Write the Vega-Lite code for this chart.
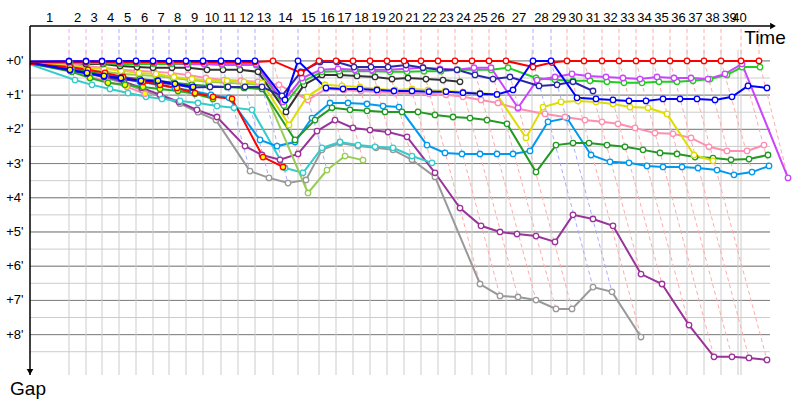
{
"$schema":"https://vega.github.io/schema/vega-lite/v6.json",
"width":740,"height":349,
"autosize":{"type":"none"},
"padding":{"left":30,"top":26,"right":30,"bottom":25},
"background":"white",
"config":{"view":{"stroke":null},"font":"Liberation Sans"},
"datasets":{
"grid":[{"g":0},{"g":0.5},{"g":1},{"g":1.5},{"g":2},{"g":2.5},{"g":3},{"g":3.5},{"g":4},{"g":4.5},{"g":5},{"g":5.5},{"g":6},{"g":6.5},{"g":7},{"g":7.5},{"g":8},{"g":8.5}],
"laps":[{"lap":1,"end":39},{"lap":2,"end":56},{"lap":3,"end":72},{"lap":4,"end":89},{"lap":5,"end":106},{"lap":6,"end":123},{"lap":7,"end":139},{"lap":8,"end":156},{"lap":9,"end":173},{"lap":10,"end":191},{"lap":11,"end":208},{"lap":12,"end":225},{"lap":13,"end":243},{"lap":14,"end":268},{"lap":15,"end":289},{"lap":16,"end":306},{"lap":17,"end":323},{"lap":18,"end":340},{"lap":19,"end":357},{"lap":20,"end":374},{"lap":21,"end":391},{"lap":22,"end":408},{"lap":23,"end":425},{"lap":24,"end":442},{"lap":25,"end":459},{"lap":26,"end":476},{"lap":27,"end":502},{"lap":28,"end":521},{"lap":29,"end":537},{"lap":30,"end":554},{"lap":31,"end":572},{"lap":32,"end":589},{"lap":33,"end":606},{"lap":34,"end":623},{"lap":35,"end":640},{"lap":36,"end":657},{"lap":37,"end":674},{"lap":38,"end":691},{"lap":39,"end":708},{"lap":40,"end":711}],
"cars":[
{"car":"GR","lap":0,"t":0,"g":0.08},{"car":"GR","lap":1,"t":41,"g":0.22},{"car":"GR","lap":2,"t":58,"g":0.35},{"car":"GR","lap":3,"t":76,"g":0.5},{"car":"GR","lap":4,"t":94,"g":0.65},{"car":"GR","lap":5,"t":112,"g":0.85},{"car":"GR","lap":6,"t":131,"g":1.05},{"car":"GR","lap":7,"t":150,"g":1.25},{"car":"GR","lap":8,"t":168,"g":1.5},{"car":"GR","lap":9,"t":186,"g":1.73},{"car":"GR","lap":10,"t":220,"g":3.22},{"car":"GR","lap":11,"t":239,"g":3.42},{"car":"GR","lap":12,"t":258,"g":3.57},{"car":"GR","lap":13,"t":276,"g":3.48},{"car":"GR","lap":14,"t":292,"g":2.6},{"car":"GR","lap":15,"t":310,"g":2.4},{"car":"GR","lap":16,"t":328,"g":2.49},{"car":"GR","lap":17,"t":346,"g":2.54},{"car":"GR","lap":18,"t":363,"g":2.6},{"car":"GR","lap":19,"t":382,"g":2.89},{"car":"GR","lap":20,"t":405,"g":3.39},{"car":"GR","lap":21,"t":450,"g":6.52},{"car":"GR","lap":22,"t":470,"g":6.87},{"car":"GR","lap":23,"t":488,"g":6.9},{"car":"GR","lap":24,"t":506,"g":6.99},{"car":"GR","lap":25,"t":526,"g":7.25},{"car":"GR","lap":26,"t":542,"g":7.25},{"car":"GR","lap":27,"t":563,"g":6.61},{"car":"GR","lap":28,"t":582,"g":6.75},{"car":"GR","lap":29,"t":611,"g":8.07},
{"car":"PU","lap":0,"t":0,"g":0.08},{"car":"PU","lap":1,"t":41,"g":0.2},{"car":"PU","lap":2,"t":58,"g":0.32},{"car":"PU","lap":3,"t":76,"g":0.47},{"car":"PU","lap":4,"t":94,"g":0.61},{"car":"PU","lap":5,"t":112,"g":0.79},{"car":"PU","lap":6,"t":130,"g":0.99},{"car":"PU","lap":7,"t":149,"g":1.2},{"car":"PU","lap":8,"t":167,"g":1.43},{"car":"PU","lap":9,"t":187,"g":1.64},{"car":"PU","lap":10,"t":215,"g":2.49},{"car":"PU","lap":11,"t":232,"g":2.75},{"car":"PU","lap":12,"t":250,"g":2.89},{"car":"PU","lap":13,"t":268,"g":2.72},{"car":"PU","lap":14,"t":287,"g":2.05},{"car":"PU","lap":15,"t":305,"g":1.73},{"car":"PU","lap":16,"t":323,"g":1.96},{"car":"PU","lap":17,"t":340,"g":2.02},{"car":"PU","lap":18,"t":358,"g":2.08},{"car":"PU","lap":19,"t":377,"g":2.22},{"car":"PU","lap":20,"t":405,"g":3.27},{"car":"PU","lap":21,"t":430,"g":4.3},{"car":"PU","lap":22,"t":451,"g":4.82},{"car":"PU","lap":23,"t":470,"g":5.0},{"car":"PU","lap":24,"t":487,"g":5.06},{"car":"PU","lap":25,"t":506,"g":5.12},{"car":"PU","lap":26,"t":525,"g":5.29},{"car":"PU","lap":27,"t":543,"g":4.5},{"car":"PU","lap":28,"t":563,"g":4.62},{"car":"PU","lap":29,"t":583,"g":4.82},{"car":"PU","lap":30,"t":611,"g":6.23},{"car":"PU","lap":31,"t":632,"g":6.52},{"car":"PU","lap":32,"t":659,"g":7.72},{"car":"PU","lap":33,"t":684,"g":8.65},{"car":"PU","lap":34,"t":702,"g":8.65},{"car":"PU","lap":35,"t":719,"g":8.68},{"car":"PU","lap":36,"t":737,"g":8.74},
{"car":"CY","lap":0,"t":0,"g":0.1},{"car":"CY","lap":1,"t":45,"g":0.56},{"car":"CY","lap":2,"t":62,"g":0.7},{"car":"CY","lap":3,"t":80,"g":0.82},{"car":"CY","lap":4,"t":98,"g":0.94},{"car":"CY","lap":5,"t":116,"g":1.05},{"car":"CY","lap":6,"t":132,"g":1.11},{"car":"CY","lap":7,"t":150,"g":1.17},{"car":"CY","lap":8,"t":168,"g":1.23},{"car":"CY","lap":9,"t":187,"g":1.32},{"car":"CY","lap":10,"t":204,"g":1.37},{"car":"CY","lap":11,"t":222,"g":1.43},{"car":"CY","lap":12,"t":255,"g":3.13},{"car":"CY","lap":13,"t":273,"g":3.27},{"car":"CY","lap":14,"t":292,"g":2.54},{"car":"CY","lap":15,"t":310,"g":2.37},{"car":"CY","lap":16,"t":328,"g":2.46},{"car":"CY","lap":17,"t":345,"g":2.51},{"car":"CY","lap":18,"t":363,"g":2.54},{"car":"CY","lap":19,"t":382,"g":2.78},{"car":"CY","lap":20,"t":402,"g":2.98},
{"car":"SB","lap":0,"t":0,"g":0.08},{"car":"SB","lap":1,"t":41,"g":0.23},{"car":"SB","lap":2,"t":58,"g":0.32},{"car":"SB","lap":3,"t":75,"g":0.41},{"car":"SB","lap":4,"t":93,"g":0.53},{"car":"SB","lap":5,"t":110,"g":0.61},{"car":"SB","lap":6,"t":128,"g":0.7},{"car":"SB","lap":7,"t":145,"g":0.79},{"car":"SB","lap":8,"t":163,"g":0.88},{"car":"SB","lap":9,"t":181,"g":0.99},{"car":"SB","lap":10,"t":199,"g":1.08},{"car":"SB","lap":11,"t":230,"g":2.31},{"car":"SB","lap":12,"t":247,"g":2.49},{"car":"SB","lap":13,"t":265,"g":2.37},{"car":"SB","lap":14,"t":282,"g":1.67},{"car":"SB","lap":15,"t":300,"g":1.23},{"car":"SB","lap":16,"t":318,"g":1.23},{"car":"SB","lap":17,"t":337,"g":1.26},{"car":"SB","lap":18,"t":353,"g":1.32},{"car":"SB","lap":19,"t":369,"g":1.35},{"car":"SB","lap":20,"t":397,"g":2.46},{"car":"SB","lap":21,"t":415,"g":2.69},{"car":"SB","lap":22,"t":432,"g":2.72},{"car":"SB","lap":23,"t":450,"g":2.72},{"car":"SB","lap":24,"t":467,"g":2.72},{"car":"SB","lap":25,"t":483,"g":2.72},{"car":"SB","lap":26,"t":500,"g":2.63},{"car":"SB","lap":27,"t":518,"g":1.78},{"car":"SB","lap":28,"t":537,"g":1.67},{"car":"SB","lap":29,"t":561,"g":2.75},{"car":"SB","lap":30,"t":580,"g":2.95},{"car":"SB","lap":31,"t":599,"g":2.98},{"car":"SB","lap":32,"t":617,"g":3.07},{"car":"SB","lap":33,"t":633,"g":3.1},{"car":"SB","lap":34,"t":652,"g":3.1},{"car":"SB","lap":35,"t":668,"g":3.13},{"car":"SB","lap":36,"t":687,"g":3.19},{"car":"SB","lap":37,"t":704,"g":3.33},{"car":"SB","lap":38,"t":722,"g":3.25},{"car":"SB","lap":39,"t":739,"g":3.07},
{"car":"LG","lap":0,"t":0,"g":0.08},{"car":"LG","lap":1,"t":41,"g":0.18},{"car":"LG","lap":2,"t":58,"g":0.26},{"car":"LG","lap":3,"t":75,"g":0.32},{"car":"LG","lap":4,"t":92,"g":0.38},{"car":"LG","lap":5,"t":109,"g":0.41},{"car":"LG","lap":6,"t":126,"g":0.44},{"car":"LG","lap":7,"t":143,"g":0.5},{"car":"LG","lap":8,"t":160,"g":0.56},{"car":"LG","lap":9,"t":178,"g":0.61},{"car":"LG","lap":10,"t":196,"g":0.64},{"car":"LG","lap":11,"t":213,"g":0.67},{"car":"LG","lap":12,"t":232,"g":0.7},{"car":"LG","lap":13,"t":278,"g":3.86},{"car":"LG","lap":14,"t":297,"g":3.19},{"car":"LG","lap":15,"t":315,"g":2.78},{"car":"LG","lap":16,"t":333,"g":2.9},
{"car":"DG","lap":0,"t":0,"g":0.08},{"car":"DG","lap":1,"t":41,"g":0.2},{"car":"DG","lap":2,"t":58,"g":0.32},{"car":"DG","lap":3,"t":75,"g":0.41},{"car":"DG","lap":4,"t":92,"g":0.47},{"car":"DG","lap":5,"t":110,"g":0.53},{"car":"DG","lap":6,"t":127,"g":0.58},{"car":"DG","lap":7,"t":144,"g":0.64},{"car":"DG","lap":8,"t":162,"g":0.7},{"car":"DG","lap":9,"t":179,"g":0.73},{"car":"DG","lap":10,"t":197,"g":0.76},{"car":"DG","lap":11,"t":214,"g":0.79},{"car":"DG","lap":12,"t":232,"g":0.82},{"car":"DG","lap":13,"t":265,"g":2.31},{"car":"DG","lap":14,"t":285,"g":1.73},{"car":"DG","lap":15,"t":302,"g":1.37},{"car":"DG","lap":16,"t":320,"g":1.43},{"car":"DG","lap":17,"t":337,"g":1.46},{"car":"DG","lap":18,"t":355,"g":1.49},{"car":"DG","lap":19,"t":372,"g":1.49},{"car":"DG","lap":20,"t":388,"g":1.49},{"car":"DG","lap":21,"t":405,"g":1.58},{"car":"DG","lap":22,"t":423,"g":1.64},{"car":"DG","lap":23,"t":440,"g":1.67},{"car":"DG","lap":24,"t":457,"g":1.73},{"car":"DG","lap":25,"t":477,"g":1.84},{"car":"DG","lap":26,"t":506,"g":3.25},{"car":"DG","lap":27,"t":526,"g":2.46},{"car":"DG","lap":28,"t":543,"g":2.4},{"car":"DG","lap":29,"t":559,"g":2.4},{"car":"DG","lap":30,"t":577,"g":2.46},{"car":"DG","lap":31,"t":595,"g":2.51},{"car":"DG","lap":32,"t":613,"g":2.6},{"car":"DG","lap":33,"t":630,"g":2.69},{"car":"DG","lap":34,"t":647,"g":2.72},{"car":"DG","lap":35,"t":665,"g":2.81},{"car":"DG","lap":36,"t":683,"g":2.84},{"car":"DG","lap":37,"t":701,"g":2.89},{"car":"DG","lap":38,"t":719,"g":2.87},{"car":"DG","lap":39,"t":738,"g":2.75},
{"car":"PY","lap":0,"t":0,"g":0.08},{"car":"PY","lap":1,"t":41,"g":0.26},{"car":"PY","lap":2,"t":59,"g":0.44},{"car":"PY","lap":3,"t":77,"g":0.61},{"car":"PY","lap":4,"t":97,"g":0.76},{"car":"PY","lap":5,"t":115,"g":0.96},
{"car":"GY","lap":0,"t":0,"g":0.08},{"car":"GY","lap":1,"t":42,"g":0.32},{"car":"GY","lap":2,"t":60,"g":0.5},{"car":"GY","lap":3,"t":78,"g":0.64},{"car":"GY","lap":4,"t":95,"g":0.7},{"car":"GY","lap":5,"t":113,"g":0.76},{"car":"GY","lap":6,"t":130,"g":0.82},{"car":"GY","lap":7,"t":148,"g":0.88},{"car":"GY","lap":8,"t":165,"g":0.96},{"car":"GY","lap":9,"t":183,"g":1.11},
{"car":"P","lap":0,"t":0,"g":0.06},{"car":"P","lap":1,"t":39,"g":0.09},{"car":"P","lap":2,"t":56,"g":0.15},{"car":"P","lap":3,"t":73,"g":0.2},{"car":"P","lap":4,"t":90,"g":0.26},{"car":"P","lap":5,"t":107,"g":0.29},{"car":"P","lap":6,"t":124,"g":0.32},{"car":"P","lap":7,"t":141,"g":0.35},{"car":"P","lap":8,"t":158,"g":0.41},{"car":"P","lap":9,"t":176,"g":0.5},{"car":"P","lap":10,"t":194,"g":0.56},{"car":"P","lap":11,"t":211,"g":0.58},{"car":"P","lap":12,"t":228,"g":0.61},{"car":"P","lap":13,"t":249,"g":0.7},{"car":"P","lap":14,"t":278,"g":1.14},{"car":"P","lap":15,"t":296,"g":0.82},{"car":"P","lap":16,"t":314,"g":0.85},{"car":"P","lap":17,"t":331,"g":0.88},{"car":"P","lap":18,"t":348,"g":0.91},{"car":"P","lap":19,"t":365,"g":0.94},{"car":"P","lap":20,"t":382,"g":0.94},{"car":"P","lap":21,"t":399,"g":0.96},{"car":"P","lap":22,"t":416,"g":0.99},{"car":"P","lap":23,"t":433,"g":1.05},{"car":"P","lap":24,"t":451,"g":1.14},{"car":"P","lap":25,"t":468,"g":1.23},{"car":"P","lap":26,"t":488,"g":1.4},{"car":"P","lap":27,"t":515,"g":1.55},{"car":"P","lap":28,"t":535,"g":1.64},{"car":"P","lap":29,"t":555,"g":1.73},{"car":"P","lap":30,"t":572,"g":1.78},{"car":"P","lap":31,"t":588,"g":1.84},{"car":"P","lap":32,"t":605,"g":1.96},{"car":"P","lap":33,"t":625,"g":2.11},{"car":"P","lap":34,"t":643,"g":2.13},{"car":"P","lap":35,"t":661,"g":2.25},{"car":"P","lap":36,"t":679,"g":2.51},{"car":"P","lap":37,"t":697,"g":2.63},{"car":"P","lap":38,"t":717,"g":2.63},{"car":"P","lap":39,"t":734,"g":2.46},
{"car":"Y","lap":0,"t":0,"g":0.06},{"car":"Y","lap":1,"t":40,"g":0.15},{"car":"Y","lap":2,"t":57,"g":0.2},{"car":"Y","lap":3,"t":74,"g":0.23},{"car":"Y","lap":4,"t":91,"g":0.29},{"car":"Y","lap":5,"t":109,"g":0.35},{"car":"Y","lap":6,"t":126,"g":0.38},{"car":"Y","lap":7,"t":144,"g":0.47},{"car":"Y","lap":8,"t":162,"g":0.53},{"car":"Y","lap":9,"t":179,"g":0.58},{"car":"Y","lap":10,"t":197,"g":0.58},{"car":"Y","lap":11,"t":214,"g":0.61},{"car":"Y","lap":12,"t":232,"g":0.64},{"car":"Y","lap":13,"t":259,"g":1.87},{"car":"Y","lap":14,"t":277,"g":1.05},{"car":"Y","lap":15,"t":295,"g":0.7},{"car":"Y","lap":16,"t":312,"g":0.73},{"car":"Y","lap":17,"t":330,"g":0.76},{"car":"Y","lap":18,"t":347,"g":0.82},{"car":"Y","lap":19,"t":365,"g":0.85},{"car":"Y","lap":20,"t":382,"g":0.82},{"car":"Y","lap":21,"t":398,"g":0.85},{"car":"Y","lap":22,"t":415,"g":0.88},{"car":"Y","lap":23,"t":433,"g":0.91},{"car":"Y","lap":24,"t":450,"g":0.94},{"car":"Y","lap":25,"t":467,"g":0.99},{"car":"Y","lap":26,"t":496,"g":2.25},{"car":"Y","lap":27,"t":513,"g":1.35},{"car":"Y","lap":28,"t":531,"g":1.2},{"car":"Y","lap":29,"t":548,"g":1.17},{"car":"Y","lap":30,"t":566,"g":1.2},{"car":"Y","lap":31,"t":583,"g":1.26},{"car":"Y","lap":32,"t":600,"g":1.35},{"car":"Y","lap":33,"t":618,"g":1.37},{"car":"Y","lap":34,"t":637,"g":1.55},{"car":"Y","lap":35,"t":664,"g":2.75},{"car":"Y","lap":36,"t":683,"g":2.92},
{"car":"K","lap":0,"t":0,"g":0.03},{"car":"K","lap":1,"t":39,"g":0.03},{"car":"K","lap":2,"t":56,"g":0.09},{"car":"K","lap":3,"t":73,"g":0.09},{"car":"K","lap":4,"t":90,"g":0.15},{"car":"K","lap":5,"t":107,"g":0.18},{"car":"K","lap":6,"t":123,"g":0.2},{"car":"K","lap":7,"t":142,"g":0.2},{"car":"K","lap":8,"t":158,"g":0.2},{"car":"K","lap":9,"t":177,"g":0.26},{"car":"K","lap":10,"t":193,"g":0.26},{"car":"K","lap":11,"t":210,"g":0.26},{"car":"K","lap":12,"t":228,"g":0.32},{"car":"K","lap":13,"t":256,"g":1.49},{"car":"K","lap":14,"t":274,"g":0.7},{"car":"K","lap":15,"t":292,"g":0.41},{"car":"K","lap":16,"t":310,"g":0.41},{"car":"K","lap":17,"t":327,"g":0.44},{"car":"K","lap":18,"t":345,"g":0.47},{"car":"K","lap":19,"t":362,"g":0.53},{"car":"K","lap":20,"t":378,"g":0.5},{"car":"K","lap":21,"t":396,"g":0.53},{"car":"K","lap":22,"t":413,"g":0.56},{"car":"K","lap":23,"t":430,"g":0.61},
{"car":"G","lap":0,"t":0,"g":0.05},{"car":"G","lap":1,"t":40,"g":0.06},{"car":"G","lap":2,"t":57,"g":0.06},{"car":"G","lap":3,"t":73,"g":0.07},{"car":"G","lap":4,"t":90,"g":0.09},{"car":"G","lap":5,"t":107,"g":0.09},{"car":"G","lap":6,"t":124,"g":0.09},{"car":"G","lap":7,"t":141,"g":0.09},{"car":"G","lap":8,"t":158,"g":0.1},{"car":"G","lap":9,"t":175,"g":0.1},{"car":"G","lap":10,"t":192,"g":0.12},{"car":"G","lap":11,"t":209,"g":0.12},{"car":"G","lap":12,"t":226,"g":0.12},{"car":"G","lap":13,"t":254,"g":1.3},{"car":"G","lap":14,"t":273,"g":0.6},{"car":"G","lap":15,"t":292,"g":0.32},{"car":"G","lap":16,"t":309,"g":0.3},{"car":"G","lap":17,"t":326,"g":0.3},{"car":"G","lap":18,"t":343,"g":0.3},{"car":"G","lap":19,"t":360,"g":0.32},{"car":"G","lap":20,"t":377,"g":0.32},{"car":"G","lap":21,"t":394,"g":0.3},{"car":"G","lap":22,"t":411,"g":0.3},{"car":"G","lap":23,"t":428,"g":0.26},{"car":"G","lap":24,"t":445,"g":0.26},{"car":"G","lap":25,"t":461,"g":0.26},{"car":"G","lap":26,"t":478,"g":0.2},{"car":"G","lap":27,"t":506,"g":0.5},{"car":"G","lap":28,"t":525,"g":0.55},{"car":"G","lap":29,"t":543,"g":0.58},{"car":"G","lap":30,"t":560,"g":0.58},{"car":"G","lap":31,"t":577,"g":0.61},{"car":"G","lap":32,"t":594,"g":0.64},{"car":"G","lap":33,"t":612,"g":0.64},{"car":"G","lap":34,"t":629,"g":0.61},{"car":"G","lap":35,"t":647,"g":0.61},{"car":"G","lap":36,"t":663,"g":0.58},{"car":"G","lap":37,"t":680,"g":0.53},{"car":"G","lap":38,"t":697,"g":0.41},{"car":"G","lap":39,"t":712,"g":0.18},{"car":"G","lap":40,"t":730,"g":0.18},
{"car":"M","lap":0,"t":0,"g":0.03},{"car":"M","lap":1,"t":39,"g":0},{"car":"M","lap":2,"t":56,"g":0},{"car":"M","lap":3,"t":72,"g":0},{"car":"M","lap":4,"t":90,"g":0.06},{"car":"M","lap":5,"t":107,"g":0.06},{"car":"M","lap":6,"t":124,"g":0.06},{"car":"M","lap":7,"t":140,"g":0.06},{"car":"M","lap":8,"t":157,"g":0.09},{"car":"M","lap":9,"t":174,"g":0.09},{"car":"M","lap":10,"t":192,"g":0.09},{"car":"M","lap":11,"t":209,"g":0.09},{"car":"M","lap":12,"t":226,"g":0.09},{"car":"M","lap":13,"t":253,"g":1.2},{"car":"M","lap":14,"t":272,"g":0.5},{"car":"M","lap":15,"t":291,"g":0.26},{"car":"M","lap":16,"t":308,"g":0.23},{"car":"M","lap":17,"t":325,"g":0.26},{"car":"M","lap":18,"t":342,"g":0.26},{"car":"M","lap":19,"t":359,"g":0.26},{"car":"M","lap":20,"t":376,"g":0.23},{"car":"M","lap":21,"t":393,"g":0.2},{"car":"M","lap":22,"t":410,"g":0.23},{"car":"M","lap":23,"t":427,"g":0.26},{"car":"M","lap":24,"t":444,"g":0.2},{"car":"M","lap":25,"t":461,"g":0.2},{"car":"M","lap":26,"t":488,"g":1.37},{"car":"M","lap":27,"t":507,"g":0.56},{"car":"M","lap":28,"t":525,"g":0.47},{"car":"M","lap":29,"t":542,"g":0.38},{"car":"M","lap":30,"t":558,"g":0.44},{"car":"M","lap":31,"t":576,"g":0.47},{"car":"M","lap":32,"t":593,"g":0.5},{"car":"M","lap":33,"t":610,"g":0.53},{"car":"M","lap":34,"t":627,"g":0.47},{"car":"M","lap":35,"t":644,"g":0.5},{"car":"M","lap":36,"t":661,"g":0.5},{"car":"M","lap":37,"t":678,"g":0.53},{"car":"M","lap":38,"t":695,"g":0.38},{"car":"M","lap":39,"t":712,"g":0.09},{"car":"M","lap":40,"t":758,"g":3.42},
{"car":"N","lap":0,"t":0,"g":0.06},{"car":"N","lap":1,"t":40,"g":0.28},{"car":"N","lap":2,"t":57,"g":0.37},{"car":"N","lap":3,"t":74,"g":0.46},{"car":"N","lap":4,"t":91,"g":0.52},{"car":"N","lap":5,"t":111,"g":0.6},{"car":"N","lap":6,"t":128,"g":0.63},{"car":"N","lap":7,"t":145,"g":0.69},{"car":"N","lap":8,"t":162,"g":0.78},{"car":"N","lap":9,"t":180,"g":0.76},{"car":"N","lap":10,"t":198,"g":0.76},{"car":"N","lap":11,"t":215,"g":0.76},{"car":"N","lap":12,"t":232,"g":0.76},{"car":"N","lap":13,"t":252,"g":1.02},{"car":"N","lap":14,"t":271,"g":0.32},{"car":"N","lap":15,"t":290,"g":0.03},{"car":"N","lap":16,"t":307,"g":0.03},{"car":"N","lap":17,"t":324,"g":0.18},{"car":"N","lap":18,"t":341,"g":0.18},{"car":"N","lap":19,"t":358,"g":0.18},{"car":"N","lap":20,"t":376,"g":0.12},{"car":"N","lap":21,"t":393,"g":0.2},{"car":"N","lap":22,"t":410,"g":0.26},{"car":"N","lap":23,"t":427,"g":0.26},{"car":"N","lap":24,"t":445,"g":0.41},{"car":"N","lap":25,"t":463,"g":0.53},{"car":"N","lap":26,"t":480,"g":0.47},{"car":"N","lap":27,"t":509,"g":0.73},{"car":"N","lap":28,"t":527,"g":0.7},{"car":"N","lap":29,"t":543,"g":0.61},{"car":"N","lap":30,"t":563,"g":0.88},
{"car":"RY","lap":0,"t":0,"g":0.08},{"car":"RY","lap":1,"t":40,"g":0.18},{"car":"RY","lap":2,"t":58,"g":0.26},{"car":"RY","lap":3,"t":75,"g":0.35},{"car":"RY","lap":4,"t":93,"g":0.47},{"car":"RY","lap":5,"t":113,"g":0.61},{"car":"RY","lap":6,"t":130,"g":0.7},{"car":"RY","lap":7,"t":147,"g":0.79},{"car":"RY","lap":8,"t":165,"g":0.94},{"car":"RY","lap":9,"t":183,"g":1.05},{"car":"RY","lap":10,"t":202,"g":1.11},{"car":"RY","lap":11,"t":233,"g":2.81},{"car":"RY","lap":12,"t":253,"g":3.1},
{"car":"BY","lap":0,"t":0,"g":0.05},{"car":"BY","lap":1,"t":40,"g":0.26},{"car":"BY","lap":2,"t":57,"g":0.35},{"car":"BY","lap":3,"t":74,"g":0.44},{"car":"BY","lap":4,"t":91,"g":0.5},{"car":"BY","lap":5,"t":111,"g":0.58},{"car":"BY","lap":6,"t":128,"g":0.58},{"car":"BY","lap":7,"t":145,"g":0.67},{"car":"BY","lap":8,"t":163,"g":0.76},
{"car":"R","lap":0,"t":0,"g":0.03},{"car":"R","lap":1,"t":39,"g":0.03},{"car":"R","lap":2,"t":56,"g":0.03},{"car":"R","lap":3,"t":72,"g":0.03},{"car":"R","lap":4,"t":89,"g":0.03},{"car":"R","lap":5,"t":106,"g":0.03},{"car":"R","lap":6,"t":123,"g":0.03},{"car":"R","lap":7,"t":139,"g":0.03},{"car":"R","lap":8,"t":156,"g":0.03},{"car":"R","lap":9,"t":173,"g":0.03},{"car":"R","lap":10,"t":191,"g":0.03},{"car":"R","lap":11,"t":208,"g":0.03},{"car":"R","lap":12,"t":225,"g":0.03},{"car":"R","lap":13,"t":243,"g":0},{"car":"R","lap":14,"t":271,"g":0.35},{"car":"R","lap":15,"t":289,"g":0},{"car":"R","lap":16,"t":306,"g":0},{"car":"R","lap":17,"t":323,"g":0},{"car":"R","lap":18,"t":340,"g":0},{"car":"R","lap":19,"t":357,"g":0},{"car":"R","lap":20,"t":374,"g":0},{"car":"R","lap":21,"t":391,"g":0},{"car":"R","lap":22,"t":408,"g":0},{"car":"R","lap":23,"t":425,"g":0},{"car":"R","lap":24,"t":442,"g":0},{"car":"R","lap":25,"t":459,"g":0},{"car":"R","lap":26,"t":476,"g":0},{"car":"R","lap":27,"t":503,"g":0.18},{"car":"R","lap":28,"t":522,"g":0.05},{"car":"R","lap":29,"t":537,"g":0},{"car":"R","lap":30,"t":554,"g":0},{"car":"R","lap":31,"t":572,"g":0},{"car":"R","lap":32,"t":589,"g":0},{"car":"R","lap":33,"t":606,"g":0},{"car":"R","lap":34,"t":623,"g":0},{"car":"R","lap":35,"t":640,"g":0},{"car":"R","lap":36,"t":657,"g":0},{"car":"R","lap":37,"t":674,"g":0},{"car":"R","lap":38,"t":691,"g":0},{"car":"R","lap":39,"t":711,"g":0},{"car":"R","lap":40,"t":729,"g":0},
{"car":"B","lap":0,"t":0,"g":0.02},{"car":"B","lap":1,"t":39,"g":0.01},{"car":"B","lap":2,"t":56,"g":0.01},{"car":"B","lap":3,"t":72,"g":0.01},{"car":"B","lap":4,"t":89,"g":0},{"car":"B","lap":5,"t":106,"g":0},{"car":"B","lap":6,"t":123,"g":0},{"car":"B","lap":7,"t":139,"g":0},{"car":"B","lap":8,"t":156,"g":0},{"car":"B","lap":9,"t":173,"g":0},{"car":"B","lap":10,"t":191,"g":0},{"car":"B","lap":11,"t":208,"g":0},{"car":"B","lap":12,"t":225,"g":0},{"car":"B","lap":13,"t":255,"g":1.14},{"car":"B","lap":14,"t":268,"g":0},{"car":"B","lap":15,"t":296,"g":0.79},{"car":"B","lap":16,"t":313,"g":0.82},{"car":"B","lap":17,"t":330,"g":0.82},{"car":"B","lap":18,"t":347,"g":0.85},{"car":"B","lap":19,"t":364,"g":0.88},{"car":"B","lap":20,"t":382,"g":0.88},{"car":"B","lap":21,"t":399,"g":0.9},{"car":"B","lap":22,"t":416,"g":0.9},{"car":"B","lap":23,"t":433,"g":0.93},{"car":"B","lap":24,"t":450,"g":0.96},{"car":"B","lap":25,"t":467,"g":0.98},{"car":"B","lap":26,"t":483,"g":0.85},{"car":"B","lap":27,"t":503,"g":0},{"car":"B","lap":28,"t":521,"g":0},{"car":"B","lap":29,"t":547,"g":1.08},{"car":"B","lap":30,"t":566,"g":1.11},{"car":"B","lap":31,"t":583,"g":1.14},{"car":"B","lap":32,"t":599,"g":1.17},{"car":"B","lap":33,"t":616,"g":1.17},{"car":"B","lap":34,"t":633,"g":1.11},{"car":"B","lap":35,"t":650,"g":1.11},{"car":"B","lap":36,"t":667,"g":1.11},{"car":"B","lap":37,"t":685,"g":1.14},{"car":"B","lap":38,"t":702,"g":1.05},{"car":"B","lap":39,"t":718,"g":0.73},{"car":"B","lap":40,"t":737,"g":0.79}
]},
"layer":[
{"data":{"name":"grid"},
 "mark":{"type":"rule","strokeWidth":1,"color":"#cccccc"},
 "encoding":{
  "y":{"field":"g","type":"quantitative","scale":{"domain":[-1.02,9.18],"reverse":true,"nice":false,"zero":false},"axis":null}}},
{"data":{"name":"grid"},
 "transform":[{"filter":"datum.g % 1 === 0"}],
 "mark":{"type":"rule","strokeWidth":1,"color":"#808080"},
 "encoding":{
  "y":{"field":"g","type":"quantitative","scale":{"domain":[-1.02,9.18],"reverse":true,"nice":false,"zero":false},"axis":null}}},
{"data":{"name":"laps"},
 "mark":{"type":"rule","color":"#cccccc","strokeWidth":1},
 "encoding":{
  "x":{"field":"end","type":"quantitative","scale":{"domain":[0,740],"nice":false,"zero":false},"axis":null},
  "y":{"datum":-0.33,"type":"quantitative","scale":{"domain":[-1.02,9.18],"reverse":true,"nice":false,"zero":false},"axis":null},
  "y2":{"datum":9.18}}},
{"data":{"name":"cars"},
 "transform":[{"filter":"datum.lap > 0"},{"aggregate":[{"op":"argmin","field":"g","as":"lead"},{"op":"argmax","field":"g","as":"last"}],"groupby":["lap"]},{"filter":"datum.lead.car === 'R'"}],
 "mark":{"type":"rule","strokeDash":[4,3],"strokeWidth":1,"color":"#ffaaaa"},
 "encoding":{
  "x":{"field":"lead.t","type":"quantitative","scale":{"domain":[0,740],"nice":false,"zero":false},"axis":null},
  "y":{"field":"lead.g","type":"quantitative","scale":{"domain":[-1.02,9.18],"reverse":true,"nice":false,"zero":false},"axis":null},
  "y2":{"datum":-1.02}}},
{"data":{"name":"cars"},
 "transform":[{"filter":"datum.lap > 0"},{"aggregate":[{"op":"argmin","field":"g","as":"lead"},{"op":"argmax","field":"g","as":"last"}],"groupby":["lap"]},{"filter":"datum.lead.car === 'R'"}],
 "mark":{"type":"rule","strokeDash":[4,3],"strokeWidth":1,"color":"#ffaaaa"},
 "encoding":{
  "x":{"field":"lead.t","type":"quantitative","scale":{"domain":[0,740],"nice":false,"zero":false},"axis":null},
  "y":{"field":"lead.g","type":"quantitative","scale":{"domain":[-1.02,9.18],"reverse":true,"nice":false,"zero":false},"axis":null},
  "x2":{"field":"last.t"},
  "y2":{"field":"last.g"}}},
{"data":{"name":"cars"},
 "transform":[{"filter":"datum.lap > 0"},{"aggregate":[{"op":"argmin","field":"g","as":"lead"},{"op":"argmax","field":"g","as":"last"}],"groupby":["lap"]},{"filter":"datum.lead.car === 'B'"}],
 "mark":{"type":"rule","strokeDash":[4,3],"strokeWidth":1,"color":"#aaaaff"},
 "encoding":{
  "x":{"field":"lead.t","type":"quantitative","scale":{"domain":[0,740],"nice":false,"zero":false},"axis":null},
  "y":{"field":"lead.g","type":"quantitative","scale":{"domain":[-1.02,9.18],"reverse":true,"nice":false,"zero":false},"axis":null},
  "y2":{"datum":-1.02}}},
{"data":{"name":"cars"},
 "transform":[{"filter":"datum.lap > 0"},{"aggregate":[{"op":"argmin","field":"g","as":"lead"},{"op":"argmax","field":"g","as":"last"}],"groupby":["lap"]},{"filter":"datum.lead.car === 'B'"}],
 "mark":{"type":"rule","strokeDash":[4,3],"strokeWidth":1,"color":"#aaaaff"},
 "encoding":{
  "x":{"field":"lead.t","type":"quantitative","scale":{"domain":[0,740],"nice":false,"zero":false},"axis":null},
  "y":{"field":"lead.g","type":"quantitative","scale":{"domain":[-1.02,9.18],"reverse":true,"nice":false,"zero":false},"axis":null},
  "x2":{"field":"last.t"},
  "y2":{"field":"last.g"}}},
{"data":{"name":"cars"},
 "transform":[{"filter":"datum.lap > 0"},{"aggregate":[{"op":"argmin","field":"g","as":"lead"},{"op":"argmax","field":"g","as":"last"}],"groupby":["lap"]},{"filter":"datum.lead.car === 'M'"}],
 "mark":{"type":"rule","strokeDash":[4,3],"strokeWidth":1,"color":"#eeaaee"},
 "encoding":{
  "x":{"field":"lead.t","type":"quantitative","scale":{"domain":[0,740],"nice":false,"zero":false},"axis":null},
  "y":{"field":"lead.g","type":"quantitative","scale":{"domain":[-1.02,9.18],"reverse":true,"nice":false,"zero":false},"axis":null},
  "y2":{"datum":-1.02}}},
{"data":{"name":"cars"},
 "transform":[{"filter":"datum.lap > 0"},{"aggregate":[{"op":"argmin","field":"g","as":"lead"},{"op":"argmax","field":"g","as":"last"}],"groupby":["lap"]},{"filter":"datum.lead.car === 'M'"}],
 "mark":{"type":"rule","strokeDash":[4,3],"strokeWidth":1,"color":"#eeaaee"},
 "encoding":{
  "x":{"field":"lead.t","type":"quantitative","scale":{"domain":[0,740],"nice":false,"zero":false},"axis":null},
  "y":{"field":"lead.g","type":"quantitative","scale":{"domain":[-1.02,9.18],"reverse":true,"nice":false,"zero":false},"axis":null},
  "x2":{"field":"last.t"},
  "y2":{"field":"last.g"}}},
{"data":{"name":"cars"},
 "mark":{"type":"line","strokeWidth":2},
 "encoding":{
  "x":{"field":"t","type":"quantitative","scale":{"domain":[0,740],"nice":false,"zero":false},"axis":null},
  "y":{"field":"g","type":"quantitative","scale":{"domain":[-1.02,9.18],"reverse":true,"nice":false,"zero":false},"axis":null},
  "order":{"field":"lap","type":"quantitative"},
  "color":{"field":"car","type":"nominal","legend":null,"scale":{"domain":["GR","PU","CY","SB","LG","DG","PY","GY","P","Y","K","G","M","N","RY","BY","R","B"],"range":["#999999","#993399","#33cccc","#0099ee","#99cc55","#229922","#ff8fb0","#22aa22","#ff8fb0","#dddd00","#333333","#22cc22","#cc44ff","#2828a8","#ff0000","#0000ff","#ff0000","#0000ff"]}}}},
{"data":{"name":"cars"},
 "transform":[{"filter":"datum.lap > 0"}],
 "mark":{"type":"point","shape":"circle","filled":true,"size":30,"strokeWidth":1.3,"opacity":1},
 "encoding":{
  "x":{"field":"t","type":"quantitative","scale":{"domain":[0,740],"nice":false,"zero":false},"axis":null},
  "y":{"field":"g","type":"quantitative","scale":{"domain":[-1.02,9.18],"reverse":true,"nice":false,"zero":false},"axis":null},
  "stroke":{"field":"car","type":"nominal","legend":null,"scale":{"domain":["GR","PU","CY","SB","LG","DG","PY","GY","P","Y","K","G","M","N","RY","BY","R","B"],"range":["#999999","#993399","#33cccc","#0099ee","#99cc55","#229922","#ff8fb0","#22aa22","#ff8fb0","#dddd00","#333333","#22cc22","#cc44ff","#2828a8","#ff0000","#0000ff","#ff0000","#0000ff"]}},
  "fill":{"field":"car","type":"nominal","legend":null,"scale":{"domain":["GR","PU","CY","SB","LG","DG","PY","GY","P","Y","K","G","M","N","RY","BY","R","B"],"range":["#ffffff","#ffffff","#ffffff","#ffffff","#ffffff","#ffffff","#ffff00","#ffff00","#ffffff","#ffffff","#ffffff","#ffffff","#ffffff","#ffffff","#ffff00","#ffff00","#ffffff","#ffffff"]}}}},
{"data":{"values":[{"k":1}]},
 "mark":{"type":"rule","color":"black","strokeWidth":1.5},
 "encoding":{
  "y":{"datum":-1.02,"type":"quantitative","scale":{"domain":[-1.02,9.18],"reverse":true,"nice":false,"zero":false},"axis":null}}},
{"data":{"values":[{"k":1}]},
 "mark":{"type":"rule","color":"black","strokeWidth":1.5},
 "encoding":{
  "x":{"datum":0,"type":"quantitative","scale":{"domain":[0,740],"nice":false,"zero":false},"axis":null}}},
{"data":{"values":[{"k":1}]},
 "mark":{"type":"point","shape":"triangle-right","filled":true,"color":"black","size":45,"opacity":1},
 "encoding":{
  "x":{"datum":743,"type":"quantitative","scale":{"domain":[0,740],"nice":false,"zero":false},"axis":null},
  "y":{"datum":-1.02,"type":"quantitative","scale":{"domain":[-1.02,9.18],"reverse":true,"nice":false,"zero":false},"axis":null}}},
{"data":{"values":[{"k":1}]},
 "mark":{"type":"point","shape":"triangle-down","filled":true,"color":"black","size":45,"opacity":1},
 "encoding":{
  "x":{"datum":0,"type":"quantitative","scale":{"domain":[0,740],"nice":false,"zero":false},"axis":null},
  "y":{"datum":9.09,"type":"quantitative","scale":{"domain":[-1.02,9.18],"reverse":true,"nice":false,"zero":false},"axis":null}}},
{"data":{"name":"grid"},
 "transform":[{"filter":"datum.g % 1 === 0"},{"calculate":"'+' + datum.g + \"'\"","as":"lbl"}],
 "mark":{"type":"text","fontSize":13,"font":"Liberation Sans","color":"black","baseline":"middle","align":"right"},
 "encoding":{
  "x":{"datum":-6.5,"type":"quantitative","scale":{"domain":[0,740],"nice":false,"zero":false},"axis":null},
  "y":{"field":"g","type":"quantitative","scale":{"domain":[-1.02,9.18],"reverse":true,"nice":false,"zero":false},"axis":null},
  "text":{"field":"lbl","type":"nominal"}}},
{"data":{"name":"laps"},
 "transform":[{"window":[{"op":"lag","field":"end","as":"prev"}],"sort":[{"field":"lap","order":"ascending"}]},{"calculate":"((datum.prev == null ? 0 : datum.prev) + datum.end) / 2","as":"mid"}],
 "mark":{"type":"text","fontSize":13,"font":"Liberation Sans","color":"black","baseline":"middle","align":"center"},
 "encoding":{
  "x":{"field":"mid","type":"quantitative","scale":{"domain":[0,740],"nice":false,"zero":false},"axis":null},
  "y":{"datum":-1.24,"type":"quantitative","scale":{"domain":[-1.02,9.18],"reverse":true,"nice":false,"zero":false},"axis":null},
  "text":{"field":"lap","type":"nominal"}}},
{"data":{"values":[{"label":"Time","t":735,"g":-0.67},{"label":"Gap","t":-2,"g":9.59}]},
 "mark":{"type":"text","fontSize":19,"font":"Liberation Sans","color":"black","baseline":"middle","align":"center"},
 "encoding":{
  "x":{"field":"t","type":"quantitative","scale":{"domain":[0,740],"nice":false,"zero":false},"axis":null},
  "y":{"field":"g","type":"quantitative","scale":{"domain":[-1.02,9.18],"reverse":true,"nice":false,"zero":false},"axis":null},
  "text":{"field":"label","type":"nominal"}}}
]
}
